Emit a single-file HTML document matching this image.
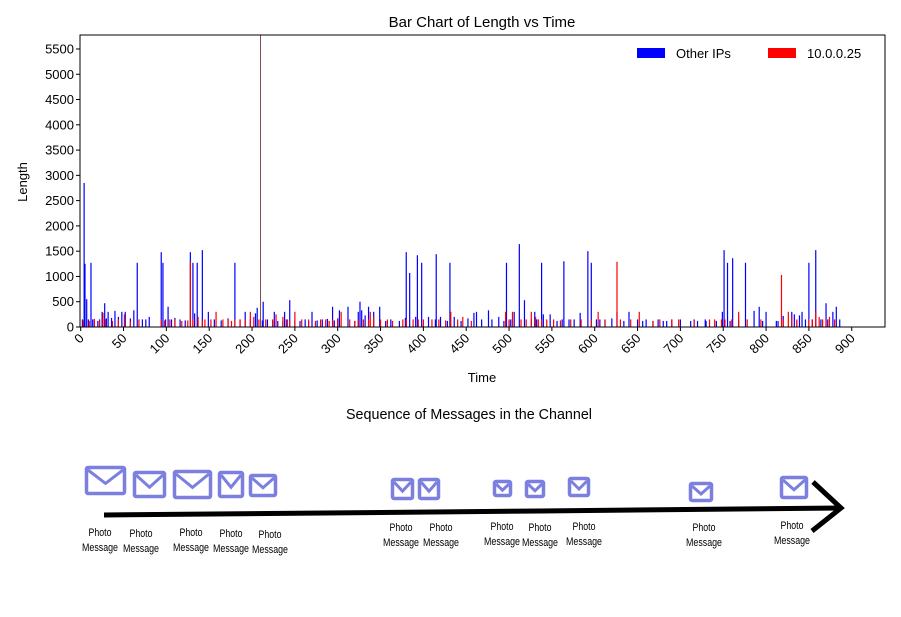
<!DOCTYPE html>
<html><head><meta charset="utf-8"><style>
body{margin:0;background:#fff;width:901px;height:617px;overflow:hidden;font-family:"Liberation Sans",sans-serif}
svg{position:absolute;left:0;top:0}
.lbl{font-family:"Liberation Sans",sans-serif;font-size:11px;text-anchor:middle}
</style></head><body>
<svg id="chart" width="901" height="617" xmlns="http://www.w3.org/2000/svg"></svg>
<script>
// data
const blueTimes=[2,4,5,7,9,12,14,16,20,22,25,28,30,32,36,40,44,48,52,58,62,66,72,76,80,94,96,99,102,106,110,116,122,128,131,133,136,142,149,156,164,172,180,186,192,198,204,206,212,213,218,224,226,230,236,238,241,244,250,256,262,266,270,276,282,288,294,296,300,302,312,320,324,326,328,332,336,342,349,356,362,372,379,380,384,391,393,398,406,414,415,420,428,431,436,444,452,459,462,468,476,480,488,494,497,500,502,506,512,518,526,530,532,534,538,540,548,556,562,564,570,576,583,584,592,596,602,606,612,620,626,634,640,650,656,660,668,674,680,684,690,700,712,716,720,729,730,742,749,751,755,758,761,768,776,786,792,796,800,812,814,820,830,833,836,839,842,846,850,854,858,864,870,872,878,882,886];
const blueVals=[150,2850,1250,550,150,1270,150,150,120,150,300,470,170,300,180,320,200,300,300,170,330,1270,150,150,200,1480,1270,150,400,150,180,150,130,1480,1270,270,1270,1520,300,150,130,170,1270,150,300,150,270,380,130,500,150,120,300,120,120,300,150,530,120,120,150,120,300,130,150,160,400,130,170,330,400,120,300,500,330,230,400,300,400,120,150,120,180,1480,1070,200,1420,1270,200,150,1440,200,120,1270,200,120,170,280,300,150,330,150,200,120,1270,120,150,300,1640,530,150,300,150,150,1270,250,250,120,150,1300,150,150,280,150,1500,1270,150,150,140,170,300,120,300,150,120,150,120,150,120,120,150,150,120,150,120,150,120,120,300,1520,1270,120,1360,150,1270,320,400,120,300,120,120,220,300,250,120,230,300,150,1270,150,1520,150,470,150,300,400,150,300,400,380,150,300,150,120];
const redTimes=[3,10,16,22,26,29,37,44,51,58,68,94,98,104,110,118,125,128,131,137,142,145,152,158,166,172,176,180,186,192,198,202,208,210,216,224,228,236,240,244,250,258,266,274,280,286,290,294,300,304,314,320,324,330,336,338,342,350,358,364,376,380,388,394,400,410,418,426,432,440,446,456,496,500,504,514,520,526,531,534,538,544,552,560,572,584,596,604,612,626,630,642,652,668,676,690,698,716,734,740,748,752,760,768,778,794,818,820,826,830,836,850,854,858,862,866,870,874,880];
const redVals=[130,120,160,130,280,150,120,150,250,120,150,150,130,150,150,120,130,1290,150,200,130,150,150,300,150,150,120,150,150,150,300,200,150,5850,150,150,250,200,150,130,300,150,150,120,150,150,120,150,150,300,150,120,150,150,150,300,200,150,150,120,150,150,150,150,150,150,150,130,300,150,200,120,300,150,300,150,150,300,200,150,150,150,150,130,150,150,150,300,150,1290,150,150,300,120,150,150,150,120,150,150,150,150,150,300,150,150,1030,150,300,200,150,150,150,300,200,150,150,200,150];
const xTicks=[0,50,100,150,200,250,300,350,400,450,500,550,600,650,700,750,800,850,900];
const yTicks=[0,500,1000,1500,2000,2500,3000,3500,4000,4500,5000,5500];

const NS="http://www.w3.org/2000/svg";
const svg=document.getElementById('chart');
const X0=80.7,XS=0.8567,Y0=327,YS=0.05055,L=80,R=885,T=35;
const xp=t=>X0+t*XS, yp=v=>Y0-v*YS;
function mk(tag,attrs,parent){const e=document.createElementNS(NS,tag);for(const k in attrs)e.setAttribute(k,attrs[k]);(parent||svg).appendChild(e);return e;}
function txt(s,attrs){const e=mk('text',attrs);e.textContent=s;return e;}

blueTimes.forEach((t,i)=>{const v=blueVals[i];
 const b=mk('rect',{x:xp(t)-0.6,y:Math.max(T,yp(v)),width:1.2,height:Y0-Math.max(T,yp(v)),fill:'#0000ff'});
 
 });
redTimes.forEach((t,i)=>{const v=redVals[i];
 const tall=v>5000;
 const b=mk('rect',{x:xp(t)-(tall?0.4:0.6),y:Math.max(T,yp(v)),width:tall?0.8:1.2,height:Y0-Math.max(T,yp(v)),fill:tall?'#662222':'#ff0000'});
 
 });

const frame=mk('rect',{x:L,y:T,width:R-L,height:Y0-T,fill:'none',stroke:'#000','stroke-width':1});

xTicks.forEach(v=>{const x=xp(v);mk('line',{x1:x,x2:x,y1:Y0,y2:Y0+4,stroke:'#000'});
 const t=txt(String(v),{x:x+4,y:Y0+12,'font-size':13,'text-anchor':'end',transform:`rotate(-45 ${x+4} ${Y0+12})`});
 });
yTicks.forEach(v=>{const y=yp(v);mk('line',{x1:L-4,x2:L,y1:y,y2:y,stroke:'#000'});
 const t=txt(String(v),{x:L-6,y:y+4.5,'font-size':13,'text-anchor':'end'});
 });
let e=txt('Bar Chart of Length vs Time',{x:482,y:27,'font-size':15,'text-anchor':'middle'});
e=txt('Time',{x:482,y:382,'font-size':13,'text-anchor':'middle'});
e=txt('Length',{x:27,y:182,'font-size':13,'text-anchor':'middle',transform:'rotate(-90 27 182)'});
// legend
e=mk('rect',{x:637,y:48,width:28,height:10,fill:'#0000ff'});
e=txt('Other IPs',{x:676,y:58,'font-size':13});
e=mk('rect',{x:768,y:48,width:28,height:10,fill:'#ff0000'});
e=txt('10.0.0.25',{x:807,y:58,'font-size':13});

// diagram
e=txt('Sequence of Messages in the Channel',{x:469,y:419,'font-size':15,'text-anchor':'middle',textLength:246,lengthAdjust:'spacingAndGlyphs'});

e=mk('path',{d:'M104 515 L325 513 L540 511 L841 508',stroke:'#000','stroke-width':5,fill:'none'});
e=mk('path',{d:'M813 482 L841 508 L812 531',stroke:'#000','stroke-width':5,fill:'none'});
const envs=[[85,466,41,29],[133,471,33,27],[173,470,39,29],[218,471,26,27],[249,474,28,23],[391,478,23,22],[418,478,22,22],[493,480,19,17],[525,480,20,18],[568,477,22,20],[689,482,24,20],[780,476,28,23]];
const labs=[[100,536],[141,537],[191,536],[231,537],[270,538],[401,531],[441,531],[502,530],[540,531],[584,530],[704,531],[792,529]];
envs.forEach(a=>{const g=mk('g',{});
 mk('rect',{x:a[0]+1.5,y:a[1]+1.5,width:a[2]-3,height:a[3]-3,fill:'#fff',stroke:'#7b80e0','stroke-width':3.5,rx:1.5},g);
 mk('path',{d:`M${a[0]+3} ${a[1]+4} L${a[0]+a[2]/2} ${a[1]+a[3]*0.6} L${a[0]+a[2]-3} ${a[1]+4}`,stroke:'#7b80e0','stroke-width':3,fill:'none'},g);});
labs.forEach(p=>{const t=mk('text',{x:p[0],y:p[1],class:'lbl'});
 mk('tspan',{x:p[0],dy:0,textLength:23,lengthAdjust:'spacingAndGlyphs'},t).textContent='Photo';
 mk('tspan',{x:p[0],dy:15,textLength:36,lengthAdjust:'spacingAndGlyphs'},t).textContent='Message';});
</script>
</body></html>
